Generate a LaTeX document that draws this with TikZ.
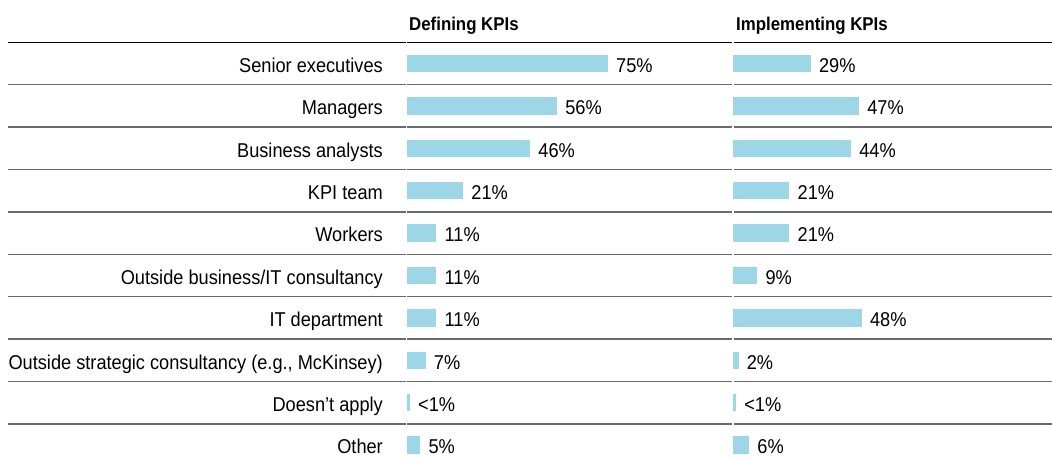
\documentclass[tikz,border=0pt]{standalone}
\usepackage{fontspec}
\setmainfont[FakeStretch=0.91]{Liberation Sans}
\usetikzlibrary{positioning}
\definecolor{barblue}{HTML}{9CD6E7}
\definecolor{rulegray}{gray}{0.42}

\begin{document}
\begin{tikzpicture}[x=1pt,y=-1pt,
    bar/.style={fill=barblue,inner sep=0pt,outer sep=0pt,minimum height=17.5pt,anchor=west},
    txt/.style={inner sep=0pt,text height=17.6pt,text depth=0pt,font=\fontsize{20}{24}\selectfont},
    hdr/.style={inner sep=0pt,anchor=base west,font=\fontsize{18.5}{22}\selectfont\bfseries}]
        \useasboundingbox (0,0) rectangle (1052,459);

        % the column heads
        \node[hdr] (hdef) at (409,30.5) {Defining KPIs};
        \node[hdr] (himp) at (736,30.5) {Implementing KPIs};

        % the rules
        \draw[line width=1.5pt] (8,42.3) -- (405.6,42.3) (407.4,42.3) -- (732.2,42.3) (734,42.3) -- (1052,42.3);
        \foreach \k in {1,...,9} {
          \pgfmathsetmacro{\ry}{42.3+42.4*\k}
          \draw[rulegray,line width=1.5pt] (8,\ry) -- (405.6,\ry) (407.4,\ry) -- (732.2,\ry) (734,\ry) -- (1052,\ry);
        }

        % the rows: label, bars and values
        \foreach \lab/\dv/\dt/\iv/\ip [count=\i from 0] in {
            Senior executives/75/75/29/29,
            Managers/56/56/47/47,
            Business analysts/46/46/44/44,
            KPI team/21/21/21/21,
            Workers/11/11/21/21,
            {Outside business/IT consultancy}/11/11/9/9,
            IT department/11/11/48/48,
            {Outside strategic consultancy (e.g., McKinsey)}/7/7/2/2,
            Doesn’t apply/1.1/{<1}/1.1/{<1},
            Other/5/5/6/6} {
          \pgfmathsetmacro{\y}{63.5+42.4*\i}
          \node[txt,anchor=east] (l\i) at (383,\y) {\lab};
          \node[bar,minimum width=\dv*2.68pt] (d\i) at (407,\y) {};
          \node[txt,right=8pt of d\i] (dp\i) {\dt\%};
          \node[bar,minimum width=\iv*2.68pt] (m\i) at (733.2,\y) {};
          \node[txt,right=8pt of m\i] (mp\i) {\ip\%};
        }
\end{tikzpicture}
\end{document}
